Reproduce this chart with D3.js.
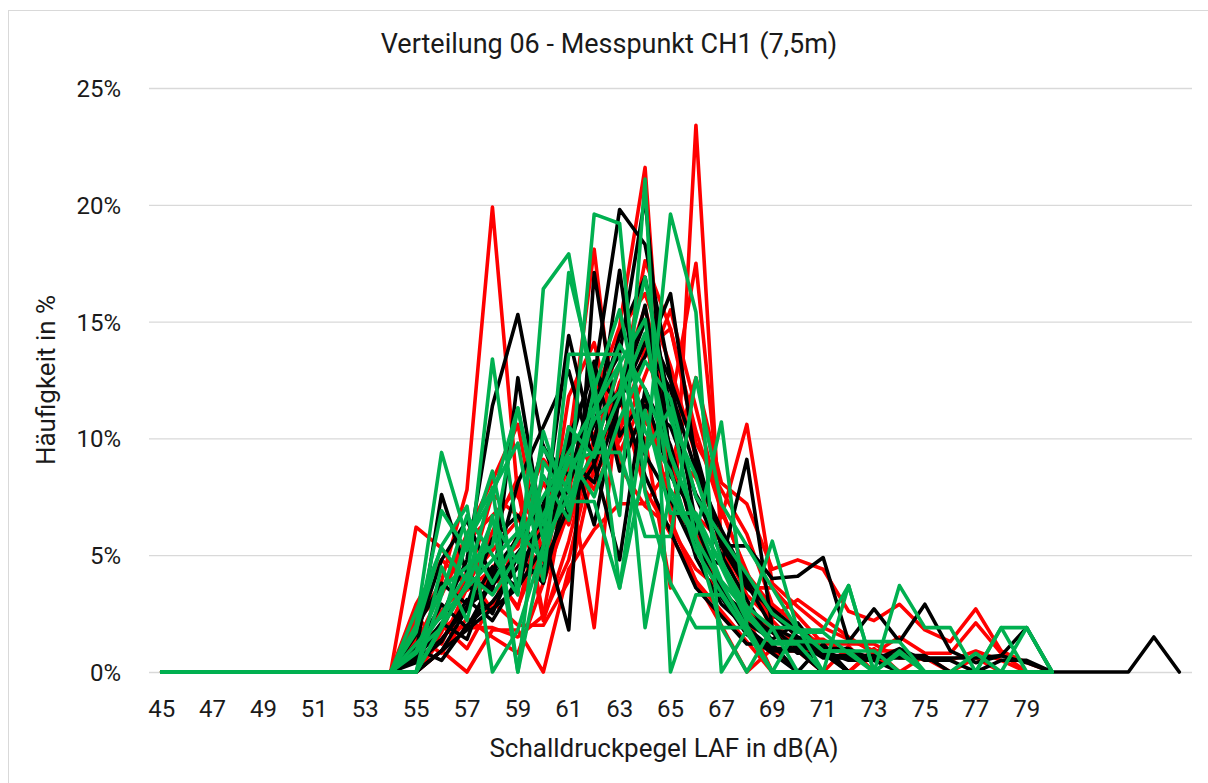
<!DOCTYPE html>
<html>
<head>
<meta charset="utf-8">
<script src="https://cdn.jsdelivr.net/npm/d3@7"></script>
<style>
  html, body { margin: 0; padding: 0; background: #fff; }
  svg { display: block; }
  text { font-family: Roboto, "Liberation Sans", sans-serif; fill: #1a1a1a; }
</style>
</head>
<body>
<svg id="chart" width="1208" height="783"></svg>
<script>
// Sound level classes, dB(A)
const levels = d3.range(45, 86);
const levelTicks = [45, 47, 49, 51, 53, 55, 57, 59, 61, 63, 65, 67, 69, 71, 73, 75, 77, 79];
const percentTicks = [0, 5, 10, 15, 20, 25];

// Relative frequency per level (%), one array per measurement run, starting at 45 dB(A)
const redRuns = [
  [0,0,0,0,0,0,0,0,0, 0,2.0,3.9,7.8,19.9,7.5,5.9,8.8,10.2,11.8,7.8,5.9,3.9,2.0,0,1.0,0,0,0,0,0,0,0,0,0,0,0],
  [0,0,0,0,0,0,0,0,0, 0,0.9,1.8,2.7,4.5,5.4,8.1,6.3,9.9,10.8,10.0,3.6,23.4,5.4,2.7,1.8,0.9,0.9,0,0.9,0,0,0,0,0,0,0],
  [0,0,0,0,0,0,0,0,0, 0,1.3,2.6,3.9,5.2,6.5,9.1,7.8,11.7,14.8,21.6,6.5,3.9,2.6,1.3,0,0,0,0,0,0,0,0,0,0,0,0],
  [0,0,0,0,0,0,0,0,0, 0,6.2,5.3,3.5,4.4,2.7,7.1,9.7,18.1,8.8,7.1,6.2,4.4,3.5,1.8,0.9,0.9,0,0,0,0,0,0,0,0,0,0],
  [0,0,0,0,0,0,0,0,0, 0,0.9,1.9,1.9,1.9,1.5,2.4,8.5,1.9,12.3,15.6,11.3,17.5,6.6,10.6,3.8,2.8,1.9,1.4,0.9,0.9,0.5,0.5,0.9,0.5,0,0],
  [0,0,0,0,0,0,0,0,0, 0,0,0.9,0,1.8,1.8,0,4.4,6.1,7.2,7.2,8.8,12.6,8.1,7.2,4.4,4.8,4.4,2.6,2.2,2.9,1.8,1.3,2.7,0.9,0.4,0],
  [0,0,0,0,0,0,0,0,0, 0,2.9,4.8,3.8,7.6,6.7,3.8,10.5,8.6,12.4,14.3,9.5,5.7,3.8,2.9,1.0,1.0,1.0,0,0,0,0,0,0,0,0,0],
  [0,0,0,0,0,0,0,0,0, 0,1.5,0.8,2.3,1.5,0.8,3.8,6.9,9.2,14.6,16.2,13.1,9.2,5.4,3.8,2.3,3.1,2.3,1.5,0.8,1.5,0.8,0.8,2.1,0.8,0,0],
  [0,0,0,0,0,0,0,0,0, 0,1.2,3.5,5.9,8.2,10.6,4.7,11.8,14.1,9.4,11.8,7.1,5.9,3.5,2.4,0,0,0,0,0,0,0,0,0,0,0,0],
  [0,0,0,0,0,0,0,0,0, 0,0,1.7,4.3,2.6,6.0,5.2,9.5,7.8,10.3,13.8,14.7,10.3,6.9,4.3,1.7,0.9,0,0,0,0,0,0,0,0,0,0],
  [0,0,0,0,0,0,0,0,0, 0,2.2,3.3,5.6,6.7,7.8,2.2,5.6,10.0,12.2,14.4,8.9,6.7,5.6,3.3,2.2,1.1,0,1.1,0,0,0,0,0,0,0,0],
  [0,0,0,0,0,0,0,0,0, 0,1.0,2.0,1.0,3.0,2.0,2.0,3.9,8.8,11.8,17.6,14.7,9.8,7.8,5.9,2.9,2.0,1.0,0,1.0,0,0,0,0,0,0,0],
  [0,0,0,0,0,0,0,0,0, 0,0,1.4,2.8,4.2,2.8,5.6,7.0,8.5,9.9,12.7,15.5,11.3,7.0,4.2,2.8,1.4,1.4,0.7,0.7,0,0.7,0,0,0,0,0],
  [0,0,0,0,0,0,0,0,0, 0,2.4,1.2,3.6,6.0,8.3,2.4,4.8,9.5,13.1,10.7,9.5,8.3,6.0,3.6,3.6,2.4,1.2,1.2,1.2,0.6,0.6,0,0.6,0,0,0]
];
const blackRuns = [
  [0,0,0,0,0,0,0,0,0, 0,0,0.9,1.8,2.7,3.6,5.4,8.1,12.6,19.8,18.3,12.6,6.3,3.6,1.8,0.9,0.9,0,0,0,0,0,0,0,0,0,0],
  [0,0,0,0,0,0,0,0,0, 0,1.2,2.4,4.8,11.4,15.3,9.6,8.4,10.8,12.0,8.4,6.0,3.6,2.4,1.2,1.2,0,1.2,0,0,0,0,0,0,0,0,0],
  [0,0,0,0,0,0,0,0,0, 0,0.8,7.6,4.2,3.4,12.6,5.9,1.8,17.1,10.1,11.8,8.4,6.7,3.4,2.5,1.7,0.8,0.8,0,0,0,0,0,0,0,0,0],
  [0,0,0,0,0,0,0,0,0, 0,0.5,1.4,2.8,3.7,5.1,6.5,14.4,9.7,17.2,9.3,7.4,5.1,4.6,9.1,1.9,1.4,0.9,0.5,0.5,0,0,0,0,0,0,0],
  [0,0,0,0,0,0,0,0,0, 0,1.0,2.9,1.9,3.9,5.8,9.7,6.8,11.7,13.6,20.3,8.7,4.9,2.9,1.9,1.0,1.0,0,0,0,0,0,0,0,0,0,0],
  [0,0,0,0,0,0,0,0,0, 0,0.4,1.3,3.1,2.2,4.0,4.5,7.1,8.9,12.1,15.0,12.5,9.4,5.4,5.4,4.0,4.1,4.9,1.3,2.7,1.3,2.9,0.9,0.4,0.7,0.4,0],
  [0,0,0,0,0,0,0,0,0, 0,1.6,4.8,6.5,4.0,8.1,10.5,12.9,8.9,4.8,12.1,9.7,5.6,3.2,1.6,0.8,0,0,0,0,0,0,0,0,0,0,0],
  [0,0,0,0,0,0,0,0,0, 0,0,0.9,2.7,4.5,3.6,7.2,9.9,6.3,11.7,13.5,16.2,9.0,5.4,3.6,2.7,1.8,0.9,0,0,0,0,0,0,0,0,0],
  [0,0,0,0,0,0,0,0,0, 0,1.9,3.8,2.9,5.7,6.7,4.8,9.5,13.3,8.6,11.4,10.5,7.6,5.7,3.8,1.9,1.0,1.0,0,0,0,0,0,0,0,0,0],
  [0,0,0,0,0,0,0,0,0, 0,0.7,2.1,1.4,4.3,5.7,7.1,10.0,12.9,11.4,15.7,9.3,6.4,3.6,2.1,1.4,2.1,0.7,0.7,0.7,0.7,0.7,0,0,0,0,0],
  [0,0,0,0,0,0,0,0,0, 0,1.0,0.5,2.0,3.0,4.5,6.1,9.1,8.1,11.6,14.1,12.1,8.6,6.1,4.0,2.5,1.5,1.0,1.0,0.5,1.0,0.5,0.5,0,0.5,0.5,0],
  [0,0,0,0,0,0,0,0,0, 0,0.6,1.9,3.8,2.5,5.0,3.8,8.1,10.6,14.4,16.9,11.3,7.5,5.0,3.1,1.3,1.3,0.6,0.6,0.6,0.6,0.6,0.6,0.6,0.7,1.9,0,0,0,0,1.5,0]
];
const greenRuns = [
  [0,0,0,0,0,0,0,0,0, 0,2.0,9.4,5.7,3.8,5.7,7.5,9.4,11.3,13.2,15.1,7.5,5.7,1.9,0,1.9,0,0,0,0,0,0,0,0,0,0,0],
  [0,0,0,0,0,0,0,0,0, 0,0,1.9,3.8,13.4,5.8,9.6,7.7,19.6,19.2,7.7,3.8,1.9,1.9,1.9,0,1.9,0,0,0,0,0,0,0,0,0,0],
  [0,0,0,0,0,0,0,0,0, 0,0,3.3,6.7,5.0,3.3,16.4,17.9,11.7,6.7,21.1,0,3.3,3.3,1.7,0,0,0,0,0,0,0,0,0,0,0,0],
  [0,0,0,0,0,0,0,0,0, 0,1.8,5.4,7.1,0,1.8,5.4,17.1,12.5,3.6,8.9,19.6,15.4,0,1.8,0,0,0,0,0,0,0,0,0,0,0,0],
  [0,0,0,0,0,0,0,0,0, 0,0,2.0,5.9,7.8,9.8,3.9,13.6,13.6,13.6,1.9,7.8,5.9,10.7,2.0,0,0,0,0,0,0,0,0,0,0,0,0],
  [0,0,0,0,0,0,0,0,0, 0,0,4.5,2.2,6.7,0,9.0,7.3,7.3,3.6,11.2,6.8,6.8,4.5,2.2,5.6,1.8,1.8,3.7,0,3.7,1.9,1.9,0,1.9,0,0],
  [0,0,0,0,0,0,0,0,0, 0,0.9,3.6,4.5,5.4,11.3,6.3,9.0,9.4,9.4,5.8,5.8,12.6,7.2,5.4,3.6,1.8,0.9,0.9,0,0.9,0,0,0,0,1.9,0],
  [0,0,0,0,0,0,0,0,0, 0,1.2,2.4,3.6,4.8,6.0,4.8,8.4,10.8,12.0,16.9,10.8,8.4,4.8,2.4,1.2,1.2,0,0,0,0,0,0,0,0,0,0],
  [0,0,0,0,0,0,0,0,0, 0,1.7,6.9,5.2,8.6,3.4,10.3,6.9,12.1,15.5,10.3,8.6,5.2,3.4,1.7,0,0,0,0,0,0,0,0,0,0,0,0],
  [0,0,0,0,0,0,0,0,0, 0,0.8,2.5,4.2,3.3,5.0,6.7,9.2,7.5,10.8,13.3,11.7,7.5,5.8,4.2,2.5,1.7,1.7,0.8,0,0.8,0,0,0.8,0,0,0],
  [0,0,0,0,0,0,0,0,0, 0,2.6,5.3,3.9,7.9,0,5.3,10.5,9.2,11.8,14.5,9.2,6.6,3.9,2.6,1.3,1.3,1.3,1.3,1.3,1.3,0,0,0,0,0,0],
  [0,0,0,0,0,0,0,0,0, 0,0,1.9,5.6,7.5,11.3,5.6,7.5,9.4,13.2,9.4,11.3,5.7,3.8,1.9,0,0,0,3.7,0,0,0,0,0,1.9,1.9,0],
  [0,0,0,0,0,0,0,0,0, 0,0.9,1.9,3.7,6.5,4.7,8.4,6.5,11.2,14.0,12.1,9.3,6.5,4.7,2.8,1.9,1.9,0.9,0.9,0.9,0,0,0,0,0,0,0]
];

const groups = [
  { runs: redRuns, color: "#FF0000" },
  { runs: blackRuns, color: "#000000" },
  { runs: greenRuns, color: "#00B050" }
];

const svg = d3.select("#chart");
const W = 1208, H = 783;
const plot = { left: 149, right: 1192, top: 88, bottom: 672 };

// chart frame
svg.append("rect")
  .attr("x", 8.5).attr("y", 10.5)
  .attr("width", W + 20).attr("height", H + 20)
  .attr("fill", "#fff").attr("stroke", "#D9D9D9").attr("stroke-width", 1);

const x = d3.scaleBand().domain(levels).range([plot.left, plot.right]).padding(0);
const xc = v => x(v) + x.bandwidth() / 2;
const y = d3.scaleLinear().domain([0, 25]).range([plot.bottom, plot.top]);

// horizontal gridlines
svg.append("g")
  .attr("transform", `translate(${plot.left},0)`)
  .call(d3.axisLeft(y).tickValues(percentTicks).tickSize(-(plot.right - plot.left)).tickFormat(""))
  .call(g => g.select(".domain").remove())
  .call(g => g.selectAll(".tick line").attr("stroke", "#D9D9D9").attr("stroke-width", 1.3));

// y tick labels
svg.append("g")
  .attr("transform", `translate(${plot.left - 28},0)`)
  .call(d3.axisLeft(y).tickValues(percentTicks).tickSize(0).tickFormat(d => d + "%"))
  .call(g => g.select(".domain").remove())
  .call(g => g.selectAll("text").attr("font-size", 24).attr("fill", "#1a1a1a")
    .attr("font-family", "Roboto, sans-serif").attr("x", 0).attr("dy", "0.35em"));

// x tick labels
svg.append("g")
  .attr("transform", `translate(0,${plot.bottom})`)
  .call(d3.axisBottom(x).tickValues(levelTicks).tickSize(0))
  .call(g => g.select(".domain").remove())
  .call(g => g.selectAll("text").attr("font-size", 24).attr("fill", "#1a1a1a")
    .attr("font-family", "Roboto, sans-serif").attr("y", 28).attr("dy", "0.71em"));

// distribution curves
const line = d3.line().x((d, i) => xc(levels[i])).y(d => y(d));
groups.forEach(gr => {
  svg.append("g").selectAll("path")
    .data(gr.runs).join("path")
    .attr("d", line)
    .attr("fill", "none")
    .attr("stroke", gr.color)
    .attr("stroke-width", 3.6)
    .attr("stroke-linejoin", "round")
    .attr("stroke-linecap", "round");
});

// title and axis titles
svg.append("text")
  .attr("x", 609).attr("y", 53)
  .attr("text-anchor", "middle")
  .attr("font-size", 27)
  .text("Verteilung 06 - Messpunkt CH1 (7,5m)");

svg.append("text")
  .attr("x", 664).attr("y", 757)
  .attr("text-anchor", "middle")
  .attr("font-size", 26)
  .text("Schalldruckpegel LAF in dB(A)");

svg.append("text")
  .attr("transform", `translate(55,380) rotate(-90)`)
  .attr("text-anchor", "middle")
  .attr("font-size", 26)
  .text("Häufigkeit in %");
</script>
</body>
</html>
